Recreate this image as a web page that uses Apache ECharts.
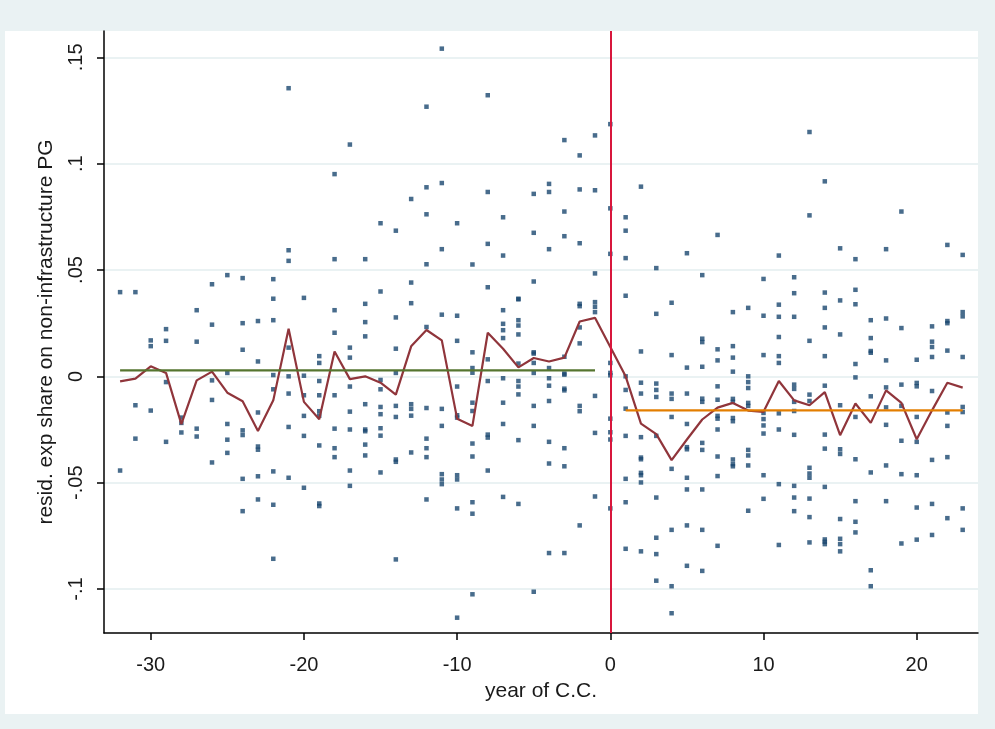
<!DOCTYPE html>
<html>
<head>
<meta charset="utf-8">
<script src="https://cdn.jsdelivr.net/npm/echarts@6/dist/echarts.min.js"></script>
<style>
html,body{margin:0;padding:0;background:#eaf2f3;}
#chart{width:995px;height:729px;}
</style>
</head>
<body>
<div id="chart"></div>
<script>
// ---- data ----
const years = [-32,-31,-30,-29,-28,-27,-26,-25,-24,-23,-22,-21,-20,-19,-18,-17,-16,-15,-14,-13,-12,-11,-10,-9,-8,-7,-6,-5,-4,-3,-2,-1,0,1,2,3,4,5,6,7,8,9,10,11,12,13,14,15,16,17,18,19,20,21,22,23];

// residual values of each observation, grouped by year (same order as years)
const pointsByYear = [
  [0.0396,-0.0443],
  [0.0396,-0.0136,-0.0293],
  [0.0169,0.0142,-0.0161],
  [0.0222,0.0167,-0.0027,-0.0308],
  [-0.0194,-0.0219,-0.0264],
  [0.0311,0.0163,-0.0246,-0.0283],
  [0.0433,0.0243,-0.0019,-0.0111,-0.0405],
  [0.0476,0.0016,-0.0224,-0.0298,-0.036],
  [0.0462,0.025,0.0125,-0.0254,-0.0276,-0.0482,-0.0634],
  [0.026,0.007,-0.017,-0.033,-0.0345,-0.047,-0.0579],
  [0.0457,0.0365,0.0264,0.0006,-0.0061,-0.0447,-0.0604,-0.0858],
  [0.1355,0.0593,0.0543,0.0135,0.0,-0.0081,-0.0238,-0.0477],
  [0.0369,0.0003,-0.0089,-0.0186,-0.028,-0.0524],
  [0.0095,0.0063,-0.0022,-0.0089,-0.0164,-0.0185,-0.0325,-0.0598,-0.061],
  [0.0951,0.0551,0.0311,0.0205,-0.0089,-0.0246,-0.0338,-0.038],
  [0.109,0.0135,0.0088,-0.0048,-0.0166,-0.025,-0.0443,-0.0515],
  [0.0551,0.0341,0.0255,0.0188,-0.0131,-0.025,-0.0258,-0.0321,-0.0372],
  [0.072,0.0399,-0.0017,-0.0061,-0.0144,-0.0178,-0.0244,-0.0279,-0.0452],
  [0.0685,0.0277,0.013,0.0016,-0.0139,-0.0191,-0.0391,-0.0402,-0.0861],
  [0.0834,0.0441,0.0344,-0.0131,-0.0153,-0.0185,-0.0358],
  [0.1268,0.0889,0.0762,0.0527,0.0232,-0.0149,-0.0293,-0.0338,-0.038,-0.0579],
  [0.1541,0.0909,0.0598,0.029,-0.0153,-0.0233,-0.046,-0.0485,-0.0507],
  [0.072,0.0285,0.0167,-0.0048,-0.0183,-0.0194,-0.0465,-0.0485,-0.0621,-0.1135],
  [0.0526,0.0113,0.0039,0.0017,-0.0124,-0.0163,-0.0316,-0.0377,-0.0592,-0.0646,-0.1025],
  [0.1322,0.0867,0.0623,0.0419,0.008,-0.0022,-0.0274,-0.0288,-0.0443],
  [0.0748,0.0568,0.0311,0.0247,0.0217,0.018,-0.0009,-0.0124,-0.0224,-0.0567],
  [0.0362,0.0365,0.0264,0.0239,0.0197,0.006,-0.0022,-0.0048,-0.0085,-0.030,-0.06],
  [0.0858,0.0675,0.0446,0.0113,0.0107,0.0063,0.0016,-0.0139,-0.0233,-0.1013],
  [0.0905,0.0867,0.0598,0.0039,-0.0009,-0.0044,-0.0116,-0.0308,-0.041,-0.0831],
  [0.1111,0.0775,0.0659,0.0092,0.0013,0.0008,-0.0058,-0.0066,-0.0338,-0.0423,-0.0831],
  [0.1039,0.0879,0.0626,0.0341,0.033,0.023,0.0155,-0.0139,-0.0164,-0.0701],
  [0.1133,0.0875,0.0484,0.0349,0.0327,0.0302,-0.0092,-0.0266,-0.0565],
  [0.1186,0.079,0.0576,0.0063,0.0016,0.0005,-0.0199,-0.0263,-0.0297,-0.0621],
  [0.0748,0.0685,0.0556,0.0379,0.0,-0.0064,-0.0152,-0.028,-0.0482,-0.0592,-0.0811],
  [0.0892,0.0117,-0.003,-0.0081,-0.0286,-0.0382,-0.039,-0.0454,-0.0465,-0.0499,-0.0823],
  [0.0509,0.0294,-0.0034,-0.0064,-0.0097,-0.028,-0.057,-0.0759,-0.0836,-0.0961],
  [0.0346,0.01,-0.0081,-0.0106,-0.0191,-0.0435,-0.0722,-0.0987,-0.1114],
  [0.0579,0.0041,-0.0081,-0.0224,-0.0333,-0.0343,-0.0477,-0.0532,-0.0701,-0.0891],
  [0.0476,0.0177,0.0161,0.0045,-0.0105,-0.012,-0.0313,-0.0346,-0.0532,-0.0722,-0.0915],
  [0.0665,0.0127,0.0075,-0.0047,-0.011,-0.0186,-0.0199,-0.025,-0.0377,-0.0469,-0.0797],
  [0.0302,0.0142,0.0088,0.0022,-0.0106,-0.012,-0.0196,-0.0211,-0.0391,-0.0413,-0.0423],
  [0.0322,0.0,-0.0027,-0.0055,-0.0125,-0.0139,-0.0346,-0.0372,-0.0419,-0.0632],
  [0.0458,0.0285,0.01,-0.0172,-0.0201,-0.0231,-0.0269,-0.0465,-0.0576],
  [0.0568,0.0337,0.028,0.0185,0.0095,0.0063,-0.0174,-0.025,-0.0507,-0.0793],
  [0.0466,0.0391,0.028,-0.0039,-0.0059,-0.012,-0.0163,-0.0275,-0.0515,-0.057,-0.0634],
  [0.1149,0.0757,0.0167,-0.0086,-0.0116,-0.043,-0.0457,-0.0477,-0.0575,-0.0662,-0.0781],
  [0.0917,0.0394,0.0322,0.023,0.0095,-0.0044,-0.0274,-0.034,-0.052,-0.0767,-0.0778,-0.0789],
  [0.0602,0.0357,0.0197,-0.0136,-0.0343,-0.0365,-0.0671,-0.0764,-0.0789,-0.0823],
  [0.0551,0.0407,0.0339,0.0058,-0.0005,-0.0191,-0.039,-0.0587,-0.0684,-0.0734],
  [0.0264,0.018,0.0119,0.0111,-0.0094,-0.0452,-0.0912,-0.0987],
  [0.0598,0.0272,0.0075,-0.0052,-0.0146,-0.0228,-0.0419,-0.0587],
  [0.0775,0.0227,-0.0039,-0.0139,-0.0303,-0.046,-0.0786],
  [0.0078,-0.0031,-0.0047,-0.0191,-0.0308,-0.0465,-0.0617,-0.0768],
  [0.0235,0.0163,0.0138,0.0091,-0.0069,-0.0393,-0.06,-0.0746],
  [0.0618,0.026,0.025,0.0121,-0.017,-0.0233,-0.038,-0.0667],
  [0.0571,0.0302,0.0282,0.0091,-0.0144,-0.0168,-0.0621,-0.0722]
];

// yearly mean line
const yearMeans = [-0.0024,-0.0011,0.0047,0.0016,-0.0225,-0.0019,0.0022,-0.0077,-0.0117,-0.0257,-0.0113,0.0224,-0.012,-0.0202,0.0117,-0.0013,0.0,-0.003,-0.0086,0.0141,0.0218,0.0169,-0.0199,-0.0233,0.0205,0.013,0.0042,0.0086,0.007,0.0088,0.0258,0.0275,0.0138,0.0,-0.0222,-0.0272,-0.0394,-0.0297,-0.0203,-0.0147,-0.0125,-0.0161,-0.0167,-0.0022,-0.0113,-0.0136,-0.0074,-0.0277,-0.0128,-0.0219,-0.0066,-0.0125,-0.0296,-0.016,-0.003,-0.0053];

// period means
const preYears = [-32, -1];
const preMean = 0.0028;
const postYears = [1, 23];
const postMean = -0.016;

// axis ticks
const xTicks = [-30, -20, -10, 0, 10, 20];
const xTickLabels = ['-30', '-20', '-10', '0', '10', '20'];
const yTicks = [-0.1, -0.05, 0, 0.05, 0.1, 0.15];
const yTickLabels = ['-.1', '-.05', '0', '.05', '.1', '.15'];
const xTitle = 'year of C.C.';
const yTitle = 'resid. exp share on non-infrastructure PG';
const eventYear = 0;

// ---- build ----
const scatterData = [];
years.forEach((yr, i) => pointsByYear[i].forEach(v => scatterData.push([yr, v])));
const meanData = years.map((yr, i) => [yr, yearMeans[i]]);

const FONT = 'Liberation Sans, Arial, sans-serif';
const chart = echarts.init(document.getElementById('chart'), null, {renderer: 'canvas'});
const yMin = -0.1207, yMax = 0.1624;

chart.setOption({
  backgroundColor: '#eaf2f3',
  animation: false,
  graphic: [{
    type: 'rect', z: -10, silent: true,
    shape: {x: 5, y: 31, width: 973, height: 683},
    style: {fill: '#ffffff'}
  }],
  grid: {left: 104, top: 31, width: 874, height: 602, containLabel: false},
  xAxis: {
    type: 'value', min: -33.05, max: 24.0,
    name: xTitle, nameLocation: 'middle', nameGap: 48,
    nameTextStyle: {fontFamily: FONT, fontSize: 21, color: '#1a1a1a'},
    axisLine: {show: true, onZero: false, lineStyle: {color: '#000', width: 1.5}},
    axisTick: {show: true, length: 7, customValues: xTicks, lineStyle: {color: '#000', width: 1.5}},
    axisLabel: {fontFamily: FONT, fontSize: 20, color: '#1a1a1a', margin: 22,
      customValues: xTicks,
      formatter: v => xTickLabels[xTicks.indexOf(v)] ?? ''},
    splitLine: {show: false}
  },
  yAxis: {
    type: 'value', min: yMin, max: yMax,
    name: yTitle, nameLocation: 'middle', nameGap: 47, nameRotate: 90,
    nameTextStyle: {fontFamily: FONT, fontSize: 21, color: '#1a1a1a'},
    axisLine: {show: true, onZero: false, lineStyle: {color: '#000', width: 1.5}},
    axisTick: {show: true, length: 7, customValues: yTicks, lineStyle: {color: '#000', width: 1.5}},
    axisLabel: {fontFamily: FONT, fontSize: 20, color: '#1a1a1a', rotate: 90, margin: 18,
      customValues: yTicks,
      formatter: v => { const k = yTicks.findIndex(t => Math.abs(t - v) < 1e-9); return k >= 0 ? yTickLabels[k] : ''; }},
    splitLine: {show: true, lineStyle: {color: '#eaf2f3', width: 1.8}}
  },
  series: [
    {
      type: 'scatter', data: scatterData, symbol: 'rect', symbolSize: 4.5,
      itemStyle: {color: '#1a476f'}, z: 3,
      markLine: {
        silent: true, symbol: 'none', label: {show: false},
        lineStyle: {color: '#d8163c', width: 2, type: 'solid'},
        data: [{xAxis: eventYear}]
      }
    },
    {
      type: 'line', data: meanData, showSymbol: false, symbol: 'none',
      lineStyle: {color: '#90353b', width: 2.2}, z: 4
    },
    {
      type: 'line', data: [[preYears[0], preMean], [preYears[1], preMean]], showSymbol: false, symbol: 'none',
      lineStyle: {color: '#55752f', width: 2.2}, z: 4
    },
    {
      type: 'line', data: [[postYears[0], postMean], [postYears[1], postMean]], showSymbol: false, symbol: 'none',
      lineStyle: {color: '#e37e00', width: 2.2}, z: 4
    }
  ]
});
</script>
</body>
</html>
